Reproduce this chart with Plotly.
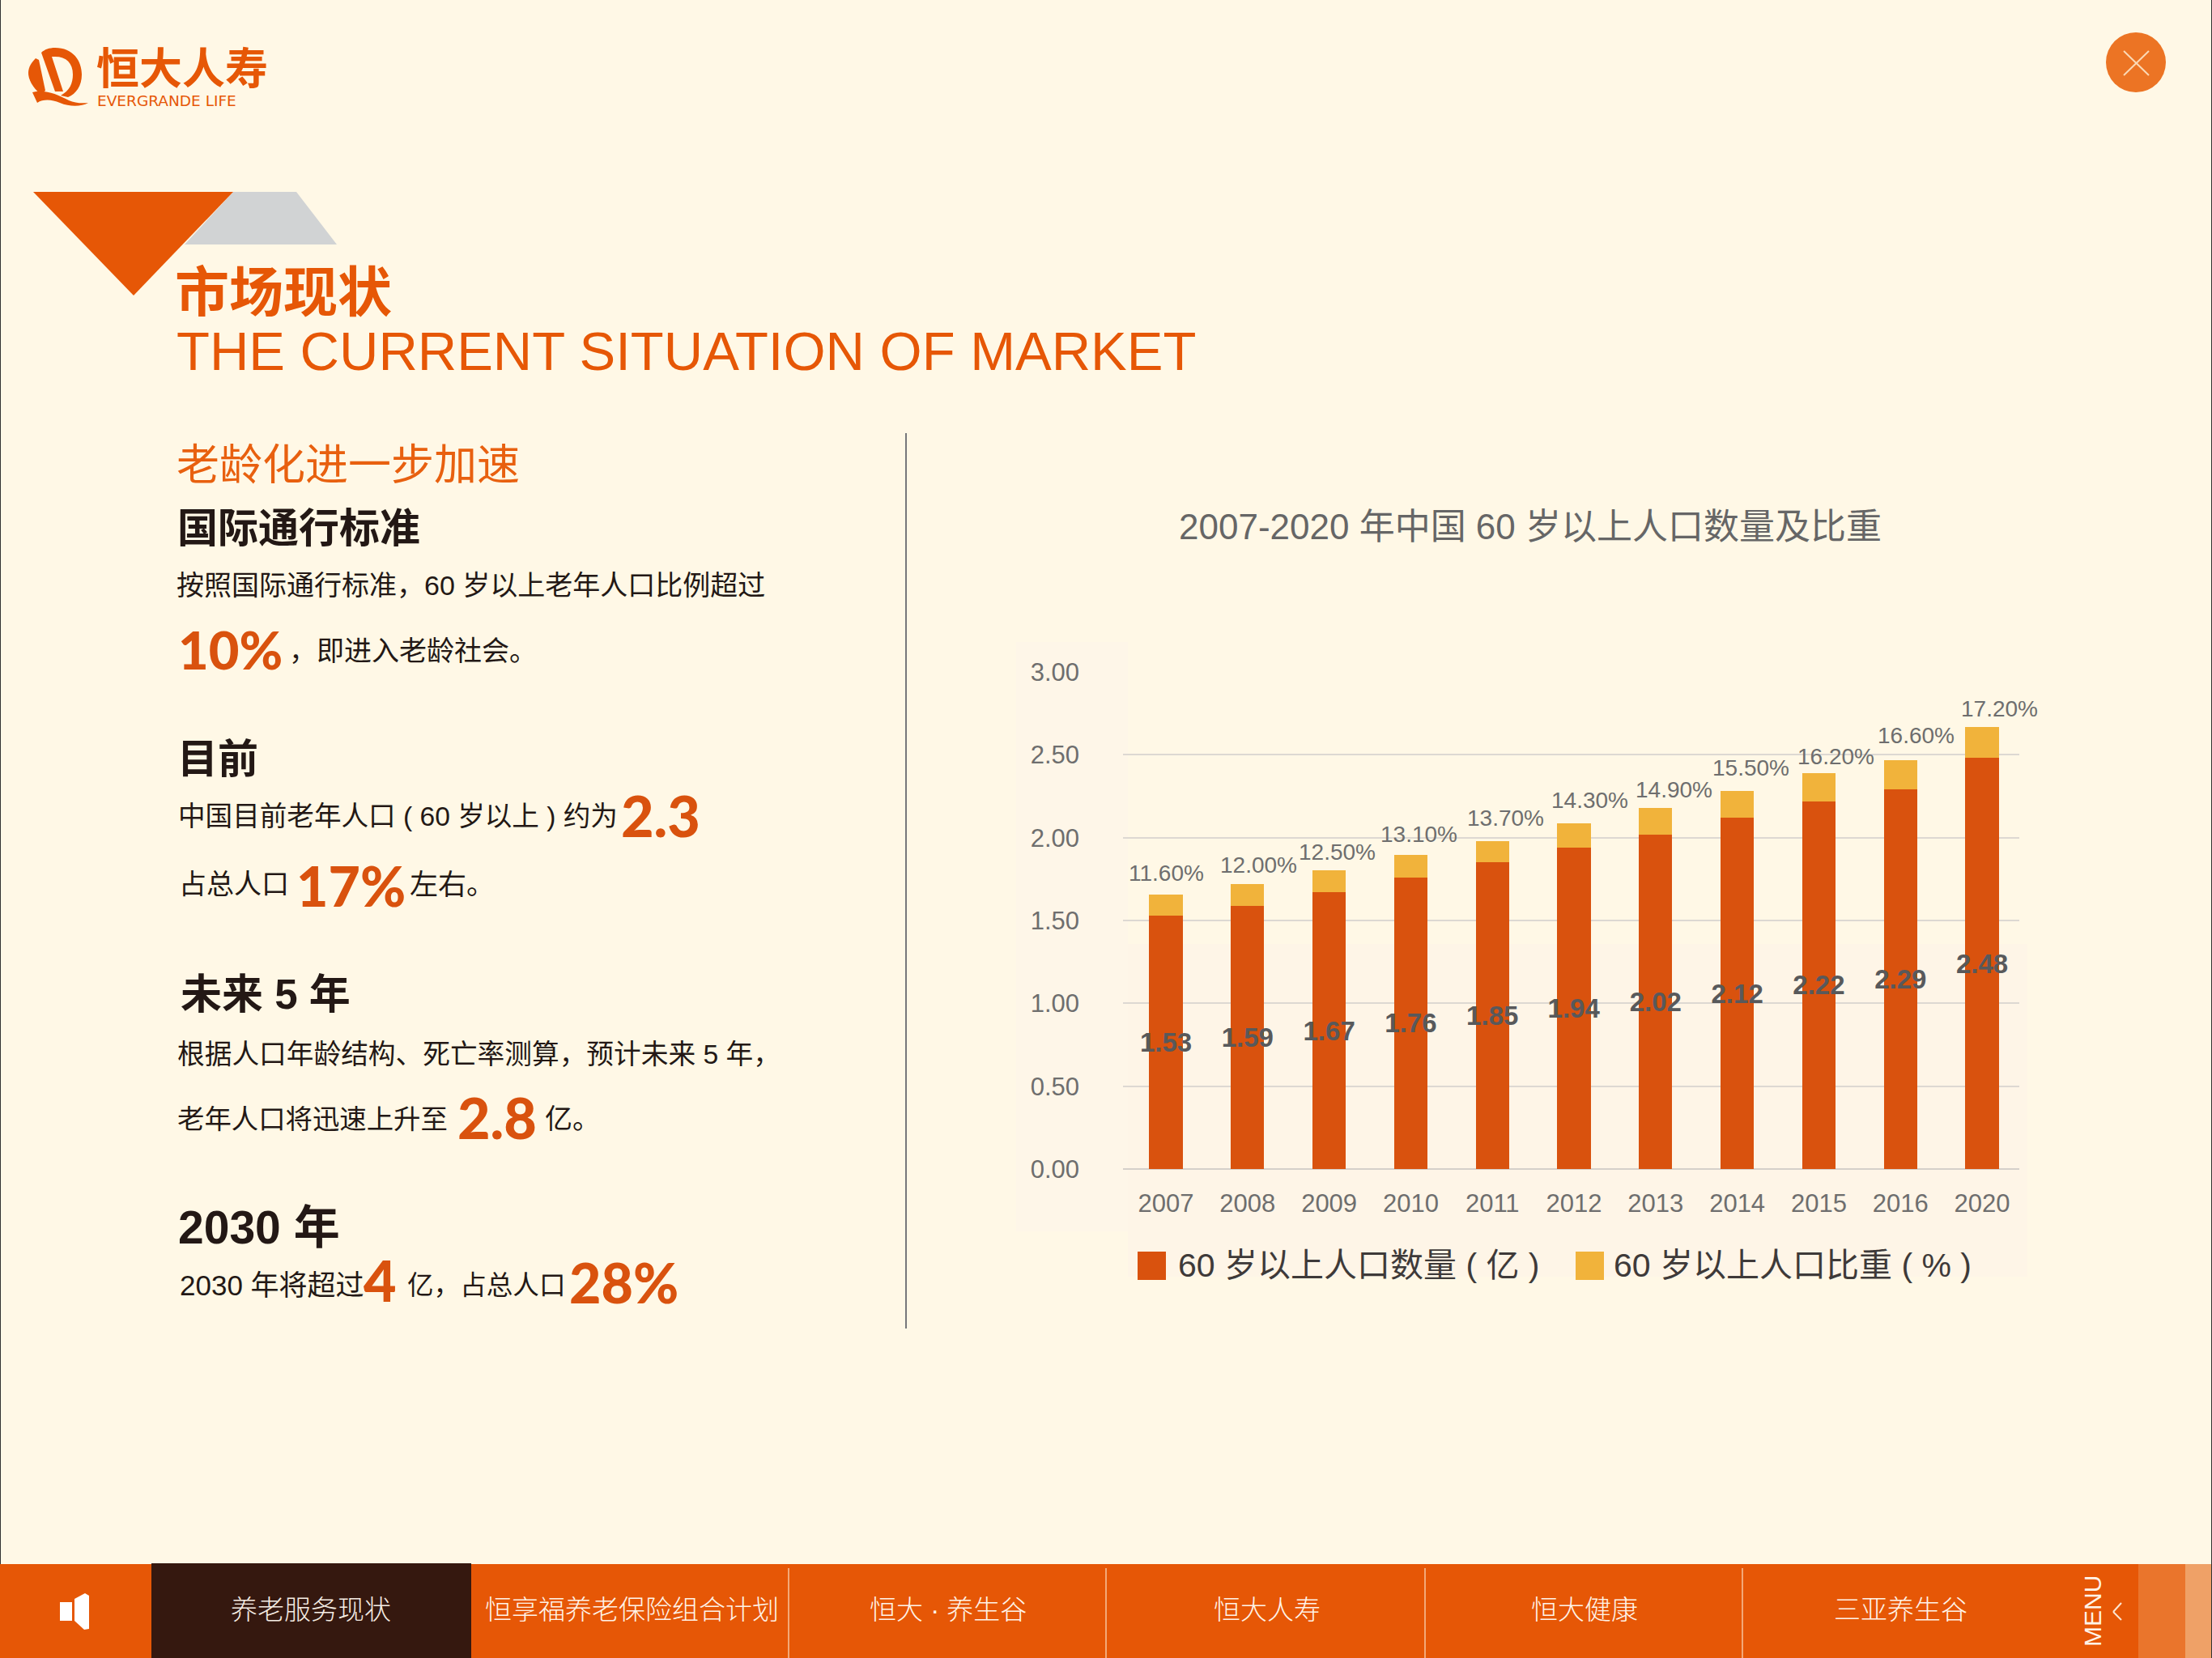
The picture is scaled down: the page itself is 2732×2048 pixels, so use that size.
import plotly.graph_objects as go

# -----------------------------------------------------------------------------
# Data
# -----------------------------------------------------------------------------
years = ["2007", "2008", "2009", "2010", "2011", "2012", "2013", "2014", "2015", "2016", "2020"]
population = [1.53, 1.59, 1.67, 1.76, 1.85, 1.94, 2.02, 2.12, 2.22, 2.29, 2.48]
# height of the yellow segment as measured on the y axis
share_height = [0.127, 0.129, 0.132, 0.134, 0.129, 0.147, 0.158, 0.163, 0.169, 0.179, 0.186]
share_labels = ["11.60%", "12.00%", "12.50%", "13.10%", "13.70%", "14.30%",
                "14.90%", "15.50%", "16.20%", "16.60%", "17.20%"]
y_ticks = [0, 0.5, 1, 1.5, 2, 2.5, 3]

chart_title = "2007-2020 年中国 60 岁以上人口数量及比重"
legend_names = ["60 岁以上人口数量 ( 亿 )", "60 岁以上人口比重 ( % )"]
nav_labels = ["养老服务现状", "恒享福养老保险组合计划", "恒大 · 养生谷", "恒大人寿", "恒大健康", "三亚养生谷"]

# label nudges, the labels in the picture sit a little off their bars
share_dx = [0, 14, 10, 10, 16, 19, 23, 17, 21, 19, 21]
share_dy = [26, 24, 23, 26, 28, 28, 23, 28, 21, 30, 23]

W, H = 2732, 2048
BG = "#FFF8E6"
ORANGE = "#E65706"
BAR_RED = "#D9520E"
BAR_YELLOW = "#F1B33B"
DARK = "#231815"
GREY = "#6E6E6E"
LATIN_CJK = "Liberation Sans, Noto Sans CJK SC"
BIG_NUM = "Lato, Open Sans, Liberation Sans"


def fx(x):
    return x / W


def fy(y):
    return 1 - y / H


def poly(points, color):
    path = "M" + " L".join(f"{fx(x):.5f},{fy(y):.5f}" for x, y in points) + " Z"
    return dict(type="path", xref="paper", yref="paper", path=path, fillcolor=color,
                line=dict(width=0), layer="below")


def box(x0, y0, x1, y1, color):
    return dict(type="rect", xref="paper", yref="paper", x0=fx(x0), x1=fx(x1), y0=fy(y0), y1=fy(y1),
                fillcolor=color, line=dict(width=0), layer="below")


def seg(x0, y0, x1, y1, color, width=2):
    return dict(type="line", xref="paper", yref="paper", x0=fx(x0), x1=fx(x1), y0=fy(y0), y1=fy(y1),
                line=dict(color=color, width=width), layer="above")


def curve(d, color):
    # d holds pixel coordinates, turned into paper fractions here
    out = []
    for tok in d.split():
        if "," in tok:
            x, y = tok.split(",")
            out.append(f"{fx(float(x)):.5f},{fy(float(y)):.5f}")
        else:
            out.append(tok)
    return dict(type="path", xref="paper", yref="paper", path=" ".join(out), fillcolor=color,
                line=dict(width=0), layer="below")


def label(x, y, text, size, color=DARK, anchor="left", family=LATIN_CJK, weight=400, angle=0):
    return dict(xref="paper", yref="paper", x=fx(x), y=fy(y), text=text, showarrow=False,
                xanchor=anchor, yanchor="middle", textangle=angle, borderpad=0, borderwidth=0,
                font=dict(size=size, color=color, family=family, weight=weight))


def big(x, y, text, size=70):
    return label(x, y, text, size, BAR_RED, family=BIG_NUM, weight=900)


# -----------------------------------------------------------------------------
# Page furniture
# -----------------------------------------------------------------------------
shapes = [
    # soft panels behind the chart
    box(1255, 793, 1393, 1521, "#FEF6E8"),
    box(1393, 1166, 2504, 1577, "#FEF5E7"),
    # header triangles
    poly([(288, 237), (366, 237), (416, 302), (228, 302)], "#D1D3D4"),
    poly([(41, 237), (288, 237), (165, 365)], ORANGE),
    # bottom bar
    box(0, 1932, W, H, ORANGE),
    box(187, 1931, 582, H, "#35180F"),
    box(2641, 1932, 2699, H, "#EA752C"),
    box(2699, 1932, W, H, "#EFA167"),
    # logo
    curve("M 68,59 C 90,59 101,75 101,92 C 101,106 94,116 84,120 L 75,118 C 86,112 90,103 90,92 "
          "C 90,78 82,70 68,70 L 64,70 L 78,113 L 68,113 L 51,65 C 55,61 61,59 68,59 Z", ORANGE),
    curve("M 44,72 L 48,74 L 56,112 L 50,116 C 40,108 35,98 35,90 C 35,83 39,77 44,72 Z", ORANGE),
    curve("M 40,114 C 55,110 70,116 85,124 C 92,127 100,128 109,127 C 100,132 86,132 74,127 "
          "C 64,123 54,122 46,127 Z", ORANGE),
    # close button
    dict(type="circle", xref="paper", yref="paper", x0=fx(2601), x1=fx(2675), y0=fy(40), y1=fy(114),
         fillcolor="#EC7424", line=dict(width=0), layer="below"),
    seg(2623, 63, 2654, 93, "#FBD9B5"),
    seg(2654, 63, 2623, 93, "#FBD9B5"),
    # column divider and page edges
    seg(1119, 535, 1119, 1641, "#77777A"),
    seg(0.5, 0, 0.5, 1932, "#333333", 1),
    seg(2731.5, 0, 2731.5, H, "#333333", 1),
    # speaker icon
    poly([(74, 1979), (89, 1979), (89, 2002), (74, 2002)], "#FFFFFF"),
    poly([(92, 1975), (105, 1968), (110, 1971), (110, 2012), (104, 2013), (92, 2002)], "#FFFFFF"),
    # menu chevron
    seg(2620, 1980, 2610, 1991, "#FCE6D2"),
    seg(2610, 1991, 2620, 2001, "#FCE6D2"),
    # legend swatches
    box(1405, 1546, 1440, 1581, BAR_RED),
    box(1946, 1546, 1981, 1581, BAR_YELLOW),
]
for x in [974, 1366, 1760, 2152]:
    shapes.append(seg(x, 1937, x, H, "#F3A877", 2))

texts = [
    label(119, 85, "<b>恒大人寿</b>", 53, ORANGE),
    label(120, 124, "EVERGRANDE LIFE", 18.5, ORANGE, family="DejaVu Sans"),
    label(216, 361, "<b>市场现状</b>", 67, ORANGE),
    label(218, 433, "THE CURRENT SITUATION OF MARKET", 67, ORANGE),

    label(218, 574, "老龄化进一步加速", 53, "#E8600F"),
    label(219, 653, "<b>国际通行标准</b>", 50),
    label(218, 723, "按照国际通行标准，60 岁以上老年人口比例超过", 34),
    big(220, 802, "10%", 65),
    label(357, 804, "，即进入老龄社会。", 34),

    label(219, 938, "<b>目前</b>", 50),
    label(220, 1008, "中国目前老年人口 ( 60 岁以上 ) 约为", 33.6),
    big(767, 1007, "2.3"),
    label(221, 1092, "占总人口", 34),
    big(366, 1093, "17%", 68),
    label(506, 1092, "左右。", 35),

    label(223, 1228, "<b>未来 5 年</b>", 51),
    label(219, 1302, "根据人口年龄结构、死亡率测算，预计未来 5 年，", 33.7),
    label(219, 1382, "老年人口将迅速上升至", 33.4),
    big(565, 1380, "2.8"),
    label(673, 1382, "亿。", 34),

    label(220, 1516, "<b>2030 年</b>", 57),
    label(222, 1587, "2030 年将超过", 35),
    big(449, 1581, "4"),
    label(503, 1587, "亿，占总人口", 32.6),
    big(703, 1583, "28%", 68),

    label(1890, 650, chart_title, 44, "#666666", anchor="center"),
    label(1455, 1563, legend_names[0], 41, "#3E3A39"),
    label(1993, 1563, legend_names[1], 41, "#3E3A39"),

    label(384, 1988, nav_labels[0], 33, "#F5EDE4", anchor="center", weight=300),
    label(780, 1988, nav_labels[1], 33, "#FFF3E8", anchor="center", weight=300),
    label(1171, 1988, nav_labels[2], 33, "#FFF3E8", anchor="center", weight=300),
    label(1565, 1988, nav_labels[3], 33, "#FFF3E8", anchor="center", weight=300),
    label(1957, 1988, nav_labels[4], 33, "#FFF3E8", anchor="center", weight=300),
    label(2347, 1988, nav_labels[5], 33, "#FFF3E8", anchor="center", weight=300),
    label(2584, 1990, "MENU", 30, "#FFF3E8", anchor="center", angle=-90),
]

# percentage labels hang over the stacked bars, placed through the data axes
# (x is the category index, numeric looking category names do not work here)
for i, (p, s, text, dx, dy) in enumerate(zip(population, share_height, share_labels, share_dx, share_dy)):
    texts.append(dict(x=i, y=p + s, xref="x", yref="y", text=text, showarrow=False,
                      xshift=dx, yshift=dy, xanchor="center", yanchor="middle",
                      font=dict(size=28, color=GREY, family=LATIN_CJK)))

# -----------------------------------------------------------------------------
# Chart
# -----------------------------------------------------------------------------
fig = go.Figure()
fig.add_trace(go.Bar(
    x=years, y=population, name=legend_names[0],
    marker=dict(color=BAR_RED, line=dict(width=0)),
    text=[f"{v:.2f}" for v in population], textposition="inside", insidetextanchor="middle",
    constraintext="none", textangle=0,
    insidetextfont=dict(size=33, color="#58595B", family=LATIN_CJK, weight=700),
))
fig.add_trace(go.Bar(
    x=years, y=share_height, name=legend_names[1],
    marker=dict(color=BAR_YELLOW, line=dict(width=0)),
))

fig.update_layout(
    width=W, height=H,
    margin=dict(t=0, b=0, l=0, r=0, autoexpand=False),
    paper_bgcolor=BG, plot_bgcolor="rgba(0,0,0,0)",
    barmode="stack", bargap=0.59, showlegend=False,
    font=dict(family=LATIN_CJK),
    shapes=shapes, annotations=texts,
)
fig.update_xaxes(
    domain=[fx(1387), fx(2494)], type="category", range=[-0.526, 10.456],
    showgrid=False, showline=False, ticks="", zeroline=False,
    tickfont=dict(size=31, color=GREY), ticklabelstandoff=21,
)
fig.update_yaxes(
    domain=[fy(1444), fy(830)], range=[0, 3], tickvals=y_ticks, tickformat=".2f",
    showgrid=True, gridcolor="#DDD8D2", gridwidth=2, zeroline=True, zerolinecolor="#D5D0CA", zerolinewidth=2,
    showline=False, ticks="", tickfont=dict(size=31, color=GREY), ticklabelstandoff=53,
)

fig.write_html("out.html", config={"displayModeBar": False},
               post_script="document.body.style.margin='0';document.body.style.overflow='hidden';")
